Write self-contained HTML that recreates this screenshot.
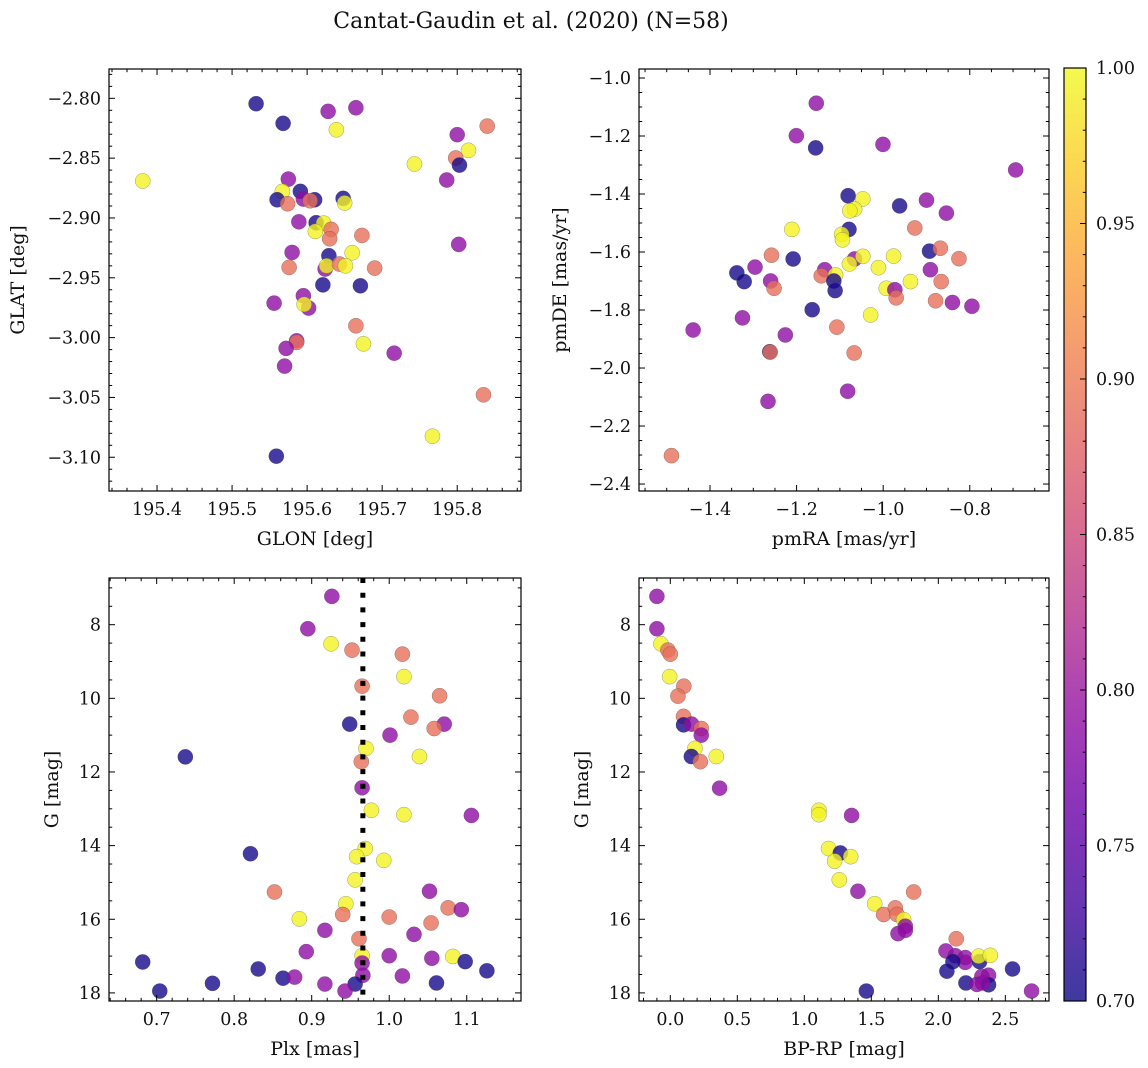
<!DOCTYPE html>
<html>
<head>
<meta charset="utf-8">
<style>
html,body{margin:0;padding:0;background:#fff;}
svg{display:block;font-family:"DejaVu Serif","Liberation Serif",serif;}
</style>
</head>
<body>
<svg id="fig" width="1148" height="1068" viewBox="0 0 1148 1068" xmlns="http://www.w3.org/2000/svg">
<rect width="1148" height="1068" fill="#fff"/>
<text x="531" y="28" font-size="22" text-anchor="middle" fill="#111">Cantat-Gaudin et al. (2020) (N=58)</text>
</svg>
<script>
// ---------- Panel 1: GLON / GLAT ----------
const glonValues = [195.532,195.568,195.628,195.665,195.639,195.840,195.800,195.815,195.743,195.798,195.803,195.786,195.381,195.575,195.567,195.591,195.560,195.574,195.595,195.610,195.604,195.648,195.650,195.589,195.612,195.622,195.611,195.632,195.630,195.673,195.802,195.580,195.629,195.660,195.576,195.624,195.626,195.643,195.651,195.690,195.621,195.671,195.556,195.595,195.602,195.596,195.665,195.586,195.586,195.572,195.675,195.716,195.570,195.835,195.767,195.559];
const glatValues = [-2.8045,-2.8209,-2.8109,-2.8079,-2.8263,-2.8232,-2.8304,-2.8435,-2.8549,-2.8499,-2.8558,-2.8683,-2.8691,-2.8675,-2.8778,-2.8778,-2.8848,-2.8881,-2.8842,-2.8848,-2.8856,-2.8836,-2.8875,-2.9032,-2.9040,-2.9043,-2.9112,-2.9095,-2.9174,-2.9146,-2.9221,-2.9288,-2.9316,-2.9291,-2.9413,-2.9427,-2.9400,-2.9385,-2.9400,-2.9419,-2.9559,-2.9567,-2.9712,-2.9650,-2.9753,-2.9722,-2.9901,-3.0027,-3.0040,-3.0090,-3.0052,-3.0130,-3.0238,-3.0478,-3.0824,-3.0991];
const glonProb = [0.705,0.705,0.79,0.79,0.995,0.89,0.79,0.995,0.995,0.89,0.705,0.79,0.995,0.79,0.995,0.705,0.705,0.89,0.79,0.705,0.89,0.705,0.995,0.79,0.705,0.995,0.995,0.89,0.89,0.89,0.79,0.79,0.705,0.995,0.89,0.79,0.995,0.89,0.995,0.89,0.705,0.705,0.79,0.79,0.79,0.995,0.89,0.79,0.89,0.79,0.995,0.79,0.79,0.89,0.995,0.705];
const glonTicks = [195.4,195.5,195.6,195.7,195.8];
const glonTickLabels = ["195.4","195.5","195.6","195.7","195.8"];
const glatTicks = [-2.80,-2.85,-2.90,-2.95,-3.00,-3.05,-3.10];
const glatTickLabels = ["\u22122.80","\u22122.85","\u22122.90","\u22122.95","\u22123.00","\u22123.05","\u22123.10"];

// ---------- Panel 2: pmRA / pmDE ----------
const pmraValues = [-1.1545,-1.2006,-1.156,-1.0005,-0.694,-1.081,-1.047,-1.066,-1.077,-0.962,-0.900,-0.854,-1.211,-1.079,-0.927,-1.096,-1.094,-0.893,-0.868,-1.258,-1.208,-0.825,-1.296,-1.338,-1.321,-1.260,-1.252,-1.135,-1.143,-1.110,-1.114,-1.111,-1.066,-1.078,-1.047,-1.011,-0.976,-0.891,-0.937,-0.993,-0.973,-0.970,-0.866,-0.879,-0.840,-0.795,-1.164,-1.029,-1.325,-1.439,-1.226,-1.107,-1.262,-1.261,-1.067,-1.082,-1.266,-1.489];
const pmdeValues = [-1.087,-1.199,-1.241,-1.229,-1.317,-1.406,-1.417,-1.452,-1.458,-1.441,-1.421,-1.466,-1.522,-1.522,-1.517,-1.539,-1.558,-1.597,-1.587,-1.611,-1.624,-1.623,-1.652,-1.672,-1.702,-1.700,-1.725,-1.661,-1.682,-1.679,-1.700,-1.733,-1.624,-1.641,-1.615,-1.654,-1.614,-1.661,-1.702,-1.725,-1.730,-1.758,-1.702,-1.768,-1.774,-1.787,-1.799,-1.817,-1.827,-1.869,-1.886,-1.859,-1.944,-1.945,-1.948,-2.080,-2.115,-2.302];
const pmProb = [0.79,0.79,0.705,0.79,0.79,0.705,0.995,0.995,0.995,0.705,0.79,0.79,0.995,0.705,0.89,0.995,0.995,0.705,0.89,0.89,0.705,0.89,0.79,0.705,0.705,0.79,0.89,0.79,0.89,0.995,0.705,0.705,0.79,0.995,0.995,0.995,0.995,0.79,0.995,0.995,0.79,0.89,0.89,0.89,0.79,0.79,0.705,0.995,0.79,0.79,0.79,0.89,0.705,0.89,0.89,0.79,0.79,0.89];
const pmraTicks = [-1.4,-1.2,-1.0,-0.8];
const pmraTickLabels = ["\u22121.4","\u22121.2","\u22121.0","\u22120.8"];
const pmdeTicks = [-1.0,-1.2,-1.4,-1.6,-1.8,-2.0,-2.2,-2.4];
const pmdeTickLabels = ["\u22121.0","\u22121.2","\u22121.4","\u22121.6","\u22121.8","\u22122.0","\u22122.2","\u22122.4"];

// ---------- Panel 3: Plx / G ----------
const plxValues = [0.926,0.895,0.925,0.952,1.017,1.019,0.965,1.065,1.028,0.949,1.071,1.058,1.001,0.970,1.039,0.737,0.964,0.965,0.977,1.019,1.106,0.821,0.969,0.958,0.993,0.956,0.852,1.052,0.944,1.076,1.093,0.940,0.884,1.000,1.054,0.917,1.032,0.961,0.893,0.682,0.965,0.965,1.000,1.055,1.082,1.098,1.126,0.831,0.863,0.878,0.966,1.017,0.772,0.917,0.956,1.061,0.704,0.943];
const plxG = [7.23,8.11,8.52,8.69,8.80,9.41,9.67,9.93,10.51,10.70,10.70,10.82,11.00,11.36,11.58,11.59,11.72,12.43,13.04,13.16,13.18,14.22,14.08,14.30,14.40,14.93,15.26,15.24,15.58,15.69,15.74,15.87,15.99,15.94,16.10,16.30,16.41,16.53,16.88,17.16,16.99,17.19,16.99,17.06,17.01,17.15,17.40,17.35,17.60,17.57,17.52,17.54,17.74,17.76,17.76,17.73,17.95,17.95];
const plxProb = [0.79,0.79,0.995,0.89,0.89,0.995,0.89,0.89,0.89,0.705,0.79,0.89,0.79,0.995,0.995,0.705,0.89,0.79,0.995,0.995,0.79,0.705,0.995,0.995,0.995,0.995,0.89,0.79,0.995,0.89,0.79,0.89,0.995,0.89,0.89,0.79,0.79,0.89,0.79,0.705,0.995,0.79,0.79,0.79,0.995,0.705,0.705,0.705,0.705,0.79,0.79,0.79,0.705,0.79,0.705,0.705,0.705,0.79];
const plxMedian = [0.966];
const plxTicks = [0.7,0.8,0.9,1.0,1.1];
const plxTickLabels = ["0.7","0.8","0.9","1.0","1.1"];
const gTicks = [8,10,12,14,16,18];
const gTickLabels = ["8","10","12","14","16","18"];

// ---------- Panel 4: BP-RP / G ----------
const bprpValues = [-0.100,-0.100,-0.070,-0.018,0.000,-0.005,0.101,0.057,0.099,0.099,0.159,0.231,0.231,0.184,0.343,0.157,0.224,0.368,1.109,1.109,1.353,1.181,1.269,1.226,1.346,1.261,1.400,1.816,1.525,1.592,1.679,1.691,1.741,1.754,1.699,1.754,2.134,2.057,2.127,2.201,2.201,2.109,2.308,2.301,2.388,2.064,2.554,2.206,2.325,2.375,2.288,2.375,1.463,2.696,2.330];
const cmdG = [7.23,8.11,8.52,8.69,8.80,9.41,9.67,9.94,10.49,10.72,10.70,10.82,11.00,11.36,11.58,11.58,11.72,12.44,13.04,13.16,13.18,14.08,14.20,14.42,14.30,14.93,15.24,15.26,15.58,15.87,15.69,15.87,16.01,16.19,16.39,16.30,16.53,16.86,16.99,17.04,17.17,17.15,17.15,17.00,16.98,17.41,17.35,17.73,17.55,17.52,17.77,17.78,17.95,17.95,17.73];
const cmdProb = [0.79,0.79,0.995,0.89,0.89,0.995,0.89,0.89,0.89,0.705,0.79,0.89,0.79,0.995,0.995,0.705,0.89,0.79,0.995,0.995,0.79,0.995,0.705,0.995,0.995,0.995,0.79,0.89,0.995,0.89,0.89,0.89,0.995,0.79,0.79,0.79,0.89,0.79,0.79,0.79,0.79,0.705,0.705,0.995,0.995,0.705,0.705,0.705,0.79,0.79,0.79,0.705,0.705,0.79,0.79];
const bprpTicks = [0.0,0.5,1.0,1.5,2.0,2.5];
const bprpTickLabels = ["0.0","0.5","1.0","1.5","2.0","2.5"];

// ---------- Colorbar ----------
const cbarTicks = [0.70,0.75,0.80,0.85,0.90,0.95,1.00];
const cbarTickLabels = ["0.70","0.75","0.80","0.85","0.90","0.95","1.00"];

const NS = "http://www.w3.org/2000/svg";
const svg = document.getElementById("fig");
function mk(tag, attrs, parent){
  const e = document.createElementNS(NS, tag);
  for (const k in attrs) e.setAttribute(k, attrs[k]);
  (parent || svg).appendChild(e);
  return e;
}
const plasmaStops = ["#0d0887","#41049d","#6a00a8","#8f0da4","#b12a90","#cc4778","#e16462","#f2844b","#fca636","#fcce25","#f0f921"];
function hex2rgb(h){return [parseInt(h.slice(1,3),16),parseInt(h.slice(3,5),16),parseInt(h.slice(5,7),16)];}
function plasma(t){
  t = Math.max(0, Math.min(1, t));
  const p = t * 10, i = Math.min(9, Math.floor(p)), f = p - i;
  const a = hex2rgb(plasmaStops[i]), b = hex2rgb(plasmaStops[i+1]);
  return "rgb(" + a.map((v,k)=>Math.round(v + (b[k]-v)*f)).join(",") + ")";
}
function probColor(v){ return plasma((v - 0.70) / 0.30); }

function panel(cfg){
  const g = mk("g", {});
  
  
  const L = cfg.left, T = cfg.top, W = cfg.w, H = cfg.h;
  const sx = v => L + (v - cfg.x0) / (cfg.x1 - cfg.x0) * W;
  const sy = v => T + (v - cfg.yTop) / (cfg.yBot - cfg.yTop) * H;
  const cid = "clip-" + cfg.name;
  const cp = mk("clipPath", {id: cid}, g);
  mk("rect", {x: L, y: T, width: W, height: H}, cp);
  const pts = mk("g", {"clip-path": "url(#" + cid + ")"}, g);
  
  
  for (let i = 0; i < cfg.xs.length; i++){
    const c = mk("circle", {cx: sx(cfg.xs[i]), cy: sy(cfg.ys[i]), r: 7.6, fill: probColor(cfg.cs[i]), "fill-opacity": 0.8, stroke: "#444", "stroke-opacity": 0.5, "stroke-width": 0.5}, pts);
    
    
  }
  if (cfg.vline){
    const vl = mk("line", {x1: sx(cfg.vline[0]), x2: sx(cfg.vline[0]), y1: T, y2: T + H, stroke: "#000", "stroke-width": 5, "stroke-dasharray": "5 9.7"}, pts);
    
    
  }
  const fr = mk("rect", {x: L, y: T, width: W, height: H, fill: "none", stroke: "#000", "stroke-width": 1.2}, g);
  
  
  const tk = mk("g", {stroke: "#000", "stroke-width": 1}, g);
  const lo = Math.min(cfg.x0, cfg.x1), hi = Math.max(cfg.x0, cfg.x1);
  const xStart = Math.ceil(lo / cfg.xMinor - 1e-6);
  for (let k = xStart; k * cfg.xMinor <= hi + 1e-9; k++){
    const v = k * cfg.xMinor;
    const isMajor = cfg.xt.some(m => Math.abs(m - v) < cfg.xMinor * 0.01);
    const len = isMajor ? 6 : 3.2, x = sx(v);
    mk("line", {x1: x, x2: x, y1: T + H, y2: T + H - len}, tk);
    mk("line", {x1: x, x2: x, y1: T, y2: T + len}, tk);
  }
  const ylo = Math.min(cfg.yTop, cfg.yBot), yhi = Math.max(cfg.yTop, cfg.yBot);
  const yStart = Math.ceil(ylo / cfg.yMinor - 1e-6);
  for (let k = yStart; k * cfg.yMinor <= yhi + 1e-9; k++){
    const v = k * cfg.yMinor;
    const isMajor = cfg.yt.some(m => Math.abs(m - v) < cfg.yMinor * 0.01);
    const len = isMajor ? 6 : 3.2, y = sy(v);
    mk("line", {x1: L, x2: L + len, y1: y, y2: y}, tk);
    mk("line", {x1: L + W, x2: L + W - len, y1: y, y2: y}, tk);
  }
  cfg.xt.forEach((v, i) => {
    const t = mk("text", {x: sx(v), y: T + H + 24, "font-size": 17.5, "text-anchor": "middle", fill: "#111"}, g);
    t.textContent = cfg.xl[i];
    
    
  });
  cfg.yt.forEach((v, i) => {
    const t = mk("text", {x: L - 8, y: sy(v) + 6, "font-size": 17.5, "text-anchor": "end", fill: "#111"}, g);
    t.textContent = cfg.yl[i];
    
    
  });
  const xt = mk("text", {x: L + W / 2, y: T + H + 54, "font-size": 19, "text-anchor": "middle", fill: "#111"}, g);
  xt.textContent = cfg.xlabel;
  
  
  const yt = mk("text", {x: 0, y: 0, "font-size": 19, "text-anchor": "middle", fill: "#111", transform: "translate(" + cfg.ylx + "," + (T + H / 2) + ") rotate(-90)"}, g);
  yt.textContent = cfg.ylabel;
  
  
}

panel({name: "glon-glat-panel", left: 109, top: 69, w: 412, h: 422, x0: 195.336, x1: 195.885, yTop: -2.7755, yBot: -3.1282,
  xs: glonValues, ys: glatValues, cs: glonProb, xt: glonTicks, xl: glonTickLabels, yt: glatTicks, yl: glatTickLabels,
  xMinor: 0.02, yMinor: 0.01, xlabel: "GLON [deg]", ylabel: "GLAT [deg]", ylx: 24});
panel({name: "pm-panel", left: 639, top: 69, w: 410, h: 422, x0: -1.564, x1: -0.617, yTop: -0.969, yBot: -2.424,
  xs: pmraValues, ys: pmdeValues, cs: pmProb, xt: pmraTicks, xl: pmraTickLabels, yt: pmdeTicks, yl: pmdeTickLabels,
  xMinor: 0.05, yMinor: 0.05, xlabel: "pmRA [mas/yr]", ylabel: "pmDE [mas/yr]", ylx: 566});
panel({name: "plx-g-panel", left: 109, top: 578, w: 412, h: 423, x0: 0.6385, x1: 1.170, yTop: 6.732, yBot: 18.22,
  xs: plxValues, ys: plxG, cs: plxProb, xt: plxTicks, xl: plxTickLabels, yt: gTicks, yl: gTickLabels,
  xMinor: 0.02, yMinor: 0.5, xlabel: "Plx [mas]", ylabel: "G [mag]", ylx: 58, vline: plxMedian});
panel({name: "cmd-panel", left: 639, top: 578, w: 410, h: 423, x0: -0.2336, x1: 2.826, yTop: 6.732, yBot: 18.22,
  xs: bprpValues, ys: cmdG, cs: cmdProb, xt: bprpTicks, xl: bprpTickLabels, yt: gTicks, yl: gTickLabels,
  xMinor: 0.1, yMinor: 0.5, xlabel: "BP-RP [mag]", ylabel: "G [mag]", ylx: 588});

(function(){
  const L = 1064, T = 68, W = 22, H = 933;
  const defs = mk("defs", {});
  const lg = mk("linearGradient", {id: "cbgrad", x1: 0, y1: 1, x2: 0, y2: 0}, defs);
  for (let i = 0; i <= 10; i++) mk("stop", {offset: i / 10, "stop-color": plasmaStops[i]}, lg);
  const g = mk("g", {});
  
  
  mk("rect", {x: L, y: T, width: W, height: H, fill: "url(#cbgrad)", "fill-opacity": 0.8}, g);
  mk("rect", {x: L, y: T, width: W, height: H, fill: "none", stroke: "#000", "stroke-width": 1.2}, g);
  const sy = v => T + (1.0 - v) / 0.30 * H;
  for (let k = 70; k <= 100; k++){
    const v = k / 100, major = k % 5 === 0, len = major ? 6 : 3.2;
    mk("line", {x1: L + W, x2: L + W - len, y1: sy(v), y2: sy(v), stroke: "#000", "stroke-width": 1}, g);
  }
  cbarTicks.forEach((v, i) => {
    const t = mk("text", {x: L + W + 10, y: sy(v) + 6, "font-size": 17.5, fill: "#111"}, g);
    t.textContent = cbarTickLabels[i];
    
    
  });
})();
</script>
</body>
</html>
